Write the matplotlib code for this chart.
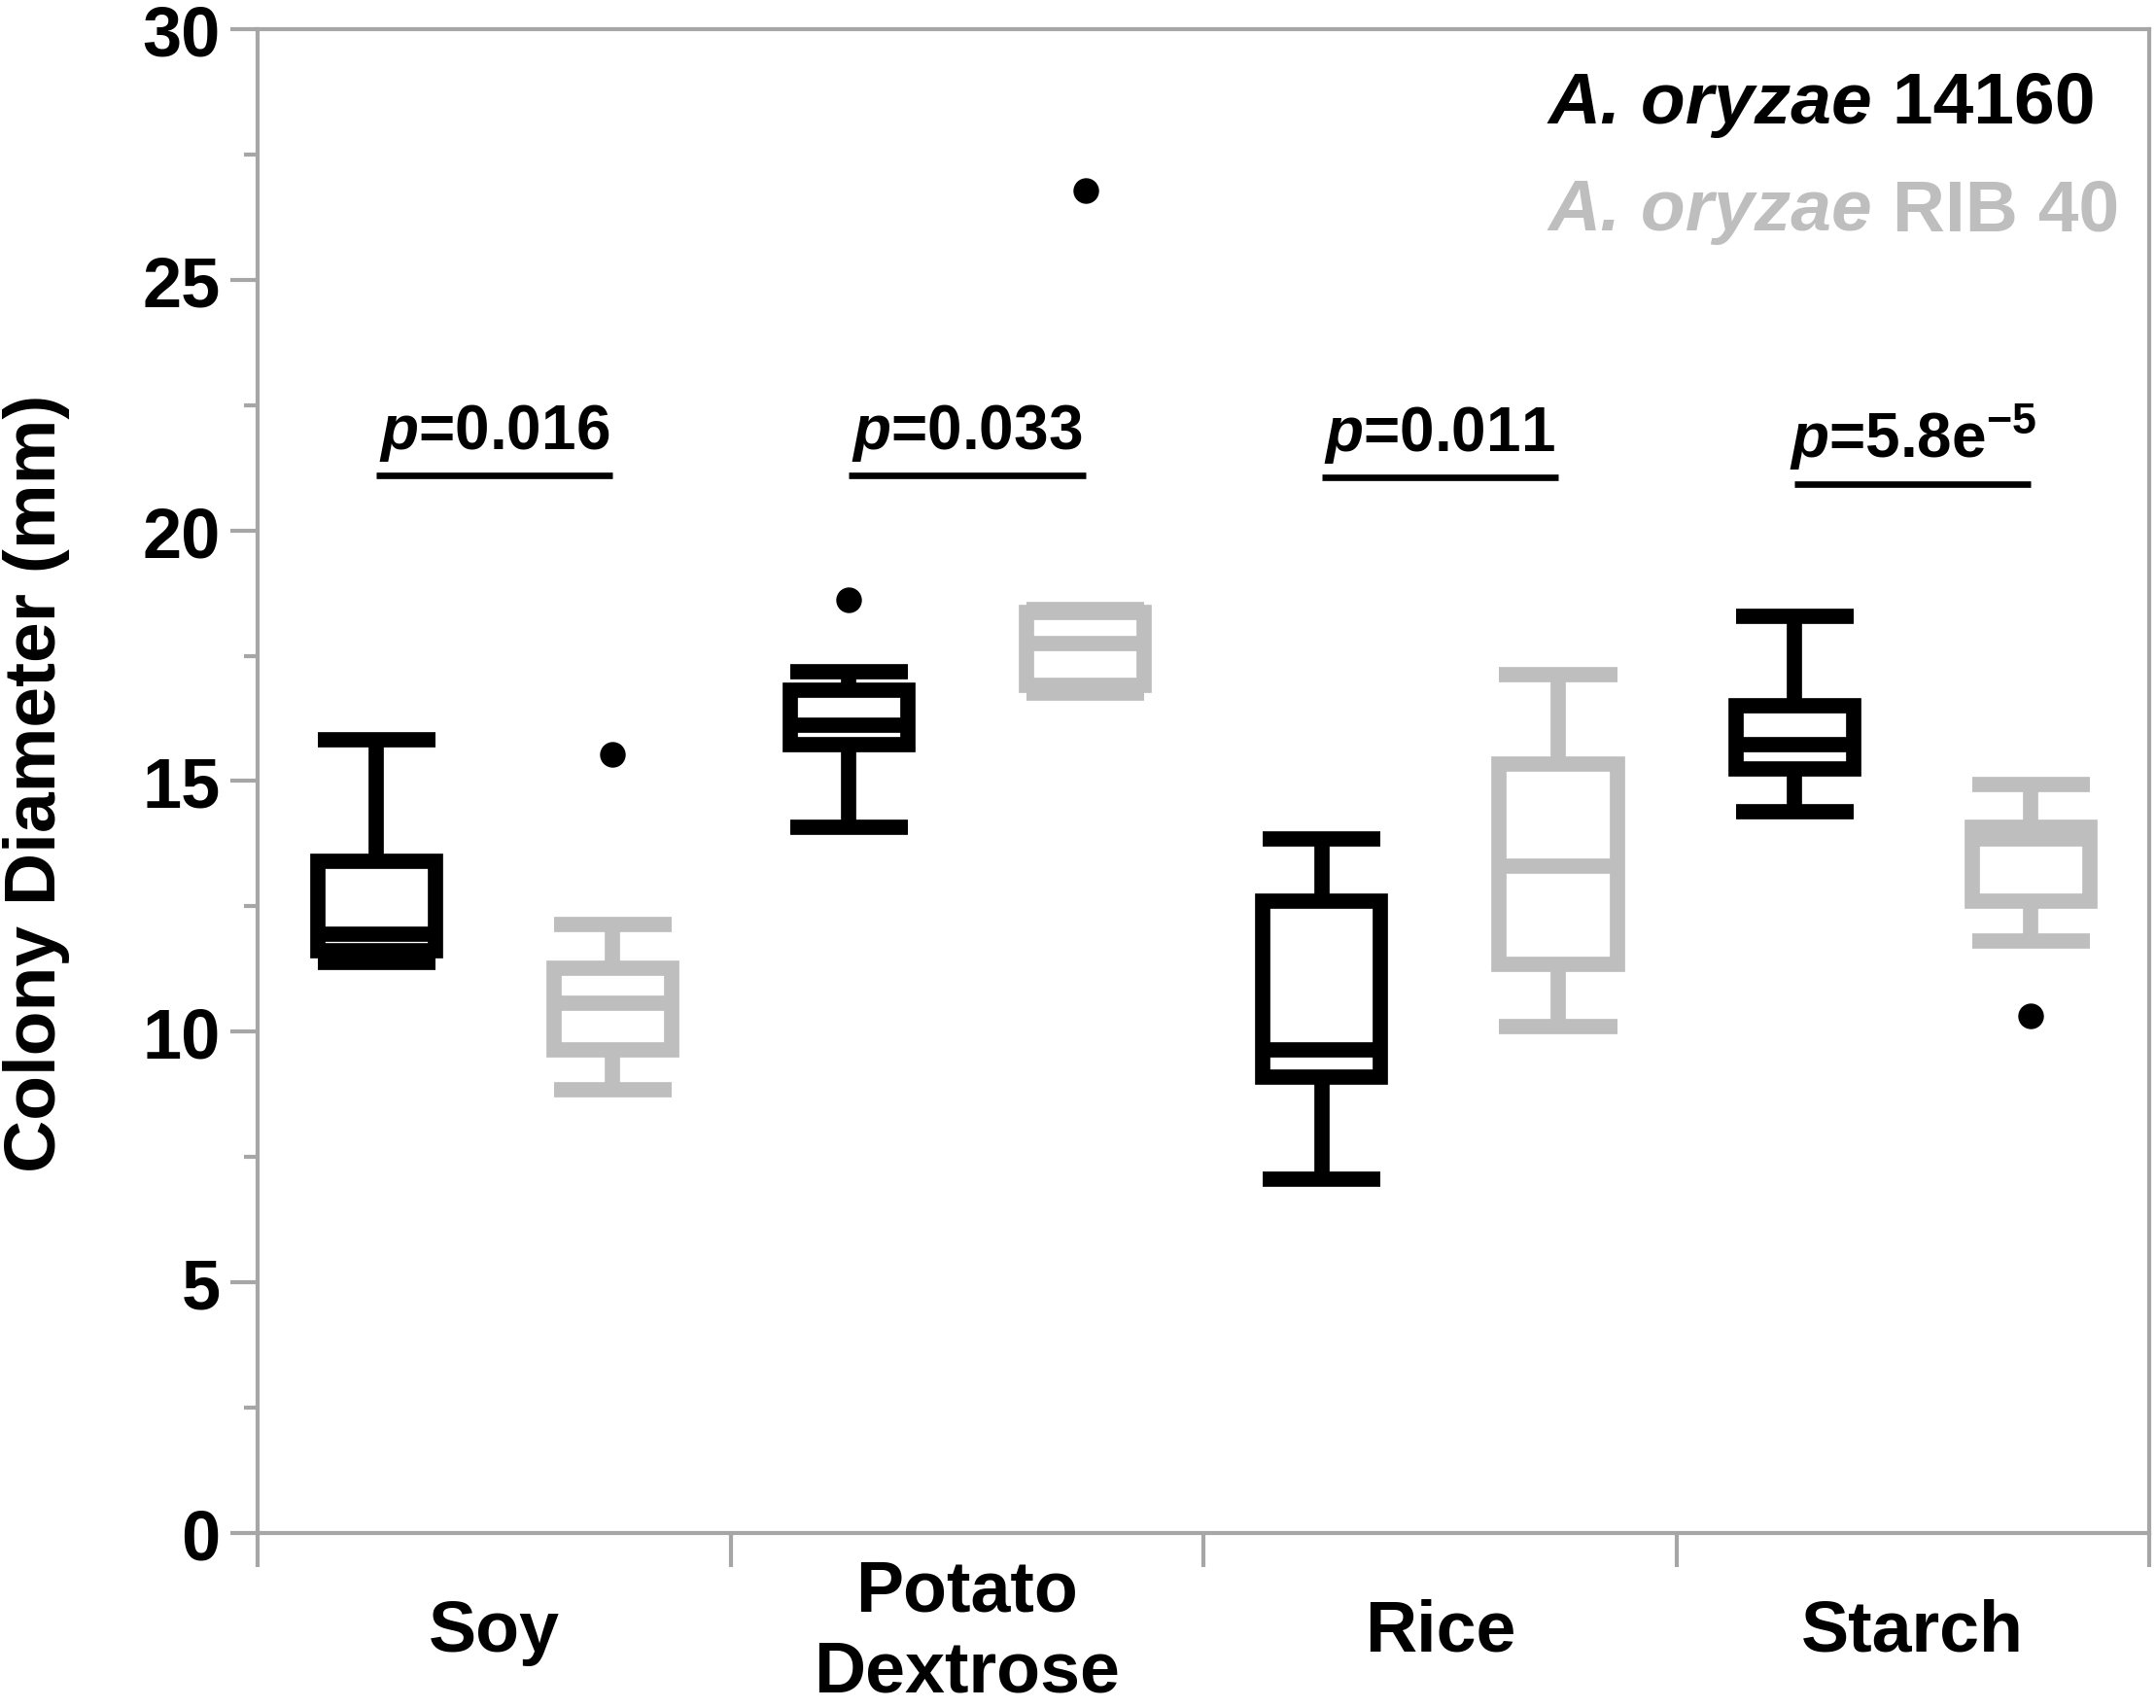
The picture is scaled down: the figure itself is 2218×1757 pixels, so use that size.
import matplotlib
matplotlib.use('Agg')
import matplotlib.pyplot as plt
from matplotlib.ticker import MultipleLocator, FixedLocator

plt.rcParams['font.family'] = ['Liberation Sans', 'DejaVu Sans']
plt.rcParams['font.weight'] = 'bold'
plt.rcParams['mathtext.fontset'] = 'custom'
plt.rcParams['mathtext.rm'] = 'Liberation Sans:bold'
plt.rcParams['mathtext.it'] = 'Liberation Sans:italic:bold'
plt.rcParams['mathtext.bf'] = 'Liberation Sans:bold'

# dati (mm)
media = ['Soy', 'Potato\nDextrose', 'Rice', 'Starch']

# A. oryzae 14160
s14160_whislo = [11.38, 14.07, 7.05, 14.39]
s14160_q1 = [11.61, 15.73, 9.09, 15.25]
s14160_med = [11.95, 16.12, 9.63, 15.73]
s14160_q3 = [13.40, 16.82, 12.60, 16.50]
s14160_whishi = [15.82, 17.19, 13.84, 18.29]
s14160_fliers = [[], [18.61], [], []]

# A. oryzae RIB 40
rib40_whislo = [8.85, 16.76, 10.10, 11.81]
rib40_q1 = [9.64, 16.91, 11.34, 12.61]
rib40_med = [10.57, 17.75, 13.30, 13.84]
rib40_q3 = [11.26, 18.36, 15.34, 14.08]
rib40_whishi = [12.13, 18.43, 17.13, 14.93]
rib40_fliers = [[15.53], [26.78], [], [10.32]]

p_values = [r'$\mathit{p}$=0.016', r'$\mathit{p}$=0.033', r'$\mathit{p}$=0.011',
            r'$\mathit{p}$=5.8e$^{-5}$']
p_line_y = [21.1, 21.1, 21.05, 20.92]

strain_names = ['14160', 'RIB 40']

black = '#000000'
grey = '#BEBEBE'
axis_grey = '#A6A6A6'


def make_stats(lo, q1, med, q3, hi, fl):
    return [dict(whislo=a, q1=b, med=c, q3=d, whishi=e, fliers=f)
            for a, b, c, d, e, f in zip(lo, q1, med, q3, hi, fl)]


fig = plt.figure(figsize=(22.18, 17.58), dpi=100)
ax = fig.add_axes([0.1197, 0.1024, 0.9968 - 0.1197, 0.9824 - 0.1024])

offset = 0.25
box_w = 0.249
lw = 11.3

for stats, color, shift in [
        (make_stats(s14160_whislo, s14160_q1, s14160_med, s14160_q3, s14160_whishi, s14160_fliers), black, -offset),
        (make_stats(rib40_whislo, rib40_q1, rib40_med, rib40_q3, rib40_whishi, rib40_fliers), grey, offset)]:
    pos = [i + shift for i in range(len(media))]
    ax.bxp(stats, positions=pos, widths=box_w, capwidths=box_w, patch_artist=True,
           boxprops=dict(facecolor='none', edgecolor=color, linewidth=lw, joinstyle='miter'),
           whiskerprops=dict(color=color, linewidth=lw, solid_capstyle='butt'),
           capprops=dict(color=color, linewidth=lw, solid_capstyle='butt'),
           medianprops=dict(color=color, linewidth=lw, solid_capstyle='butt'),
           flierprops=dict(marker='o', markerfacecolor=black, markeredgecolor=black,
                           markersize=18, linestyle='none'),
           manage_ticks=False)

# linee e testi dei p-value
for i, (txt, yl) in enumerate(zip(p_values, p_line_y)):
    ax.plot([i - offset, i + offset], [yl, yl], color=black, linewidth=4.8,
            solid_capstyle='butt')
    ax.text(i, yl + 0.55, txt, ha='center', va='baseline', fontsize=46,
            fontweight='bold')

# legenda come testo (parte in corsivo + parte normale)
for name, color, y in zip(strain_names, [black, grey], [28.14, 26.0]):
    t1 = ax.text(2.229, y, 'A. oryzae', color=color, fontsize=54, fontweight='bold',
                 fontstyle='italic', ha='left', va='baseline')
    ax.annotate(' ' + name, xy=(1, 0), xycoords=t1, color=color, fontsize=54,
                fontweight='bold', ha='left', va='bottom')

ax.set_xlim(-0.5, 3.5)
ax.set_ylim(0, 30)

for sp in ax.spines.values():
    sp.set_color(axis_grey)
    sp.set_linewidth(3)

ax.yaxis.set_major_locator(MultipleLocator(5))
ax.yaxis.set_minor_locator(MultipleLocator(2.5))
ax.tick_params(axis='y', which='major', length=20, width=3, color=axis_grey,
               labelsize=52, pad=8)
ax.tick_params(axis='y', which='minor', length=10, width=3, color=axis_grey)

ax.xaxis.set_major_locator(FixedLocator([-0.5, 0.5, 1.5, 2.5, 3.5]))
ax.xaxis.set_minor_locator(FixedLocator(range(len(media))))
ax.tick_params(axis='x', which='major', length=25, width=3, color=axis_grey,
               labelbottom=False)
ax.tick_params(axis='x', which='minor', length=0, labelsize=53, pad=73)
ax.set_xticklabels(media, minor=True)
for lab in ax.get_xticklabels(minor=True):
    lab.set_verticalalignment('center')
    lab.set_linespacing(1.25)

for lab in ax.get_yticklabels():
    lab.set_fontweight('bold')

fig.text(0.017, 0.5415, 'Colony Diameter (mm)', rotation=90, ha='center', va='center',
         fontsize=54, fontweight='bold')

fig.savefig('out.png', dpi=100)
